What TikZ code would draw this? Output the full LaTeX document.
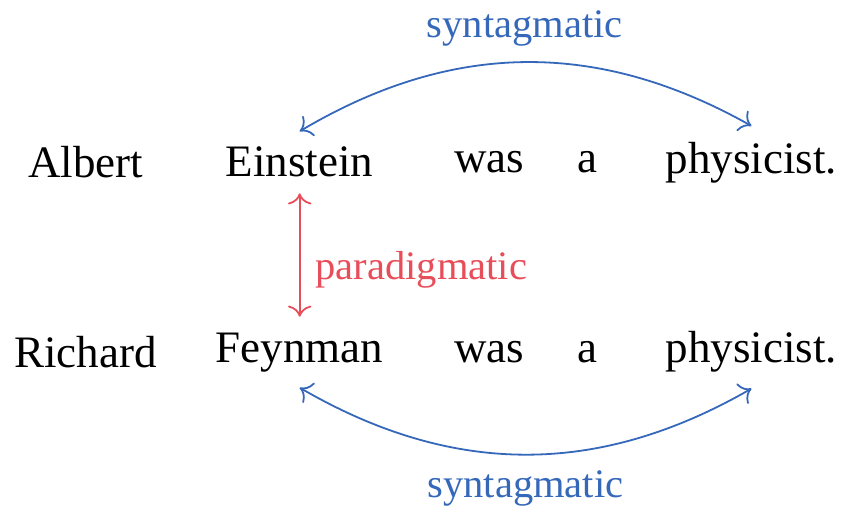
\documentclass[tikz,border=0pt]{standalone}
\usepackage{fontspec}
\setmainfont{Liberation Serif}
\usepackage{tikz}
\usetikzlibrary{arrows.meta,calc}

\definecolor{synblue}{RGB}{54,104,186}
\definecolor{parared}{RGB}{232,78,90}

\begin{document}
\begin{tikzpicture}[x=1pt,y=1pt]

% Zeilen und Spalten
\def\rowA{76.6}
\def\rowB{34.4}
\def\colA{19.0}
\def\colB{66.6}
\def\colC{108.7}
\def\colD{130.6}
\def\colE{167.0}

\useasboundingbox (0,0) rectangle (187.56,112.67);

% ------------------- Obere Zeile -------------------
\node (albert)   at (\colA,\rowA) {Albert};
\node (einstein) at (\colB,\rowA) {Einstein};
\node (wasA)     at (\colC,\rowA) {was};
\node (aA)       at (\colD,\rowA) {a};
\node (physA)    at (\colE,\rowA) {physicist.};

% ------------------- Untere Zeile -------------------
\node (richard)  at (\colA,\rowB) {Richard};
\node (feynman)  at (\colB,\rowB) {Feynman};
\node (wasB)     at (\colC,\rowB) {was};
\node (aB)       at (\colD,\rowB) {a};
\node (physB)    at (\colE,\rowB) {physicist.};

% Syntagmatisch
\draw[<->, synblue] (einstein.north) to[bend left]
  node[above, font=\small] (synA) {syntagmatic} (physA.north);
\draw[<->, synblue] (feynman.south) to[bend right]
  node[below, font=\small] (synB) {syntagmatic} (physB.south);

% Paradigmatisch
\draw[<->, parared] (einstein.south) --
  node[right, pos=0.62, font=\small] (para) {paradigmatic} (feynman.north);

\end{tikzpicture}
\end{document}
